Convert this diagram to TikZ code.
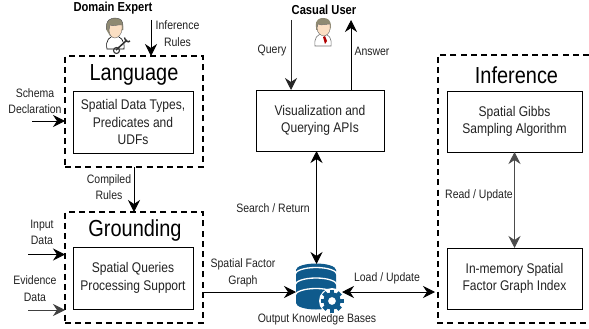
\documentclass[tikz,border=0pt]{standalone}
\usepackage{fontspec}
\setmainfont[FakeStretch=0.86]{Liberation Sans}
\usetikzlibrary{arrows.meta}
\definecolor{txt}{HTML}{222222}
\definecolor{dbblue}{HTML}{0F5A8C}
\definecolor{hair}{HTML}{8F8A72}
\definecolor{skin}{HTML}{FBDFC3}
\tikzset{
  x=1pt,y=-1pt,
  tip/.style={-{Stealth[length=12pt,width=12pt,inset=4pt]}},
  arr/.style={tip,line width=0.9pt,black},
  biarr/.style={{Stealth[length=12pt,width=12pt,inset=4pt]}-{Stealth[length=12pt,width=12pt,inset=4pt]},line width=0.9pt,black},
  dashbox/.style={draw,line width=1.2pt,dash pattern=on 6pt off 4.2pt},
  solidbox/.style={draw,line width=0.9pt,outer sep=0pt,inner sep=0pt,align=center,text=txt,font=\fontsize{14}{17.6}\selectfont},
  frame/.style={dashbox,outer sep=0pt,inner sep=0pt},
  lab/.style={inner sep=0pt,align=center,text=txt,font=\fontsize{12.2}{16.4}\selectfont},
  title/.style={inner sep=0pt,text=black,font=\fontsize{23.2}{26}\selectfont},
  boldlab/.style={inner sep=0pt,text=black,font=\bfseries\fontsize{13}{14}\selectfont},
}
\begin{document}
\begin{tikzpicture}
\useasboundingbox (0,0) rectangle (589,329);
% frames
\node[frame,minimum width=138pt,minimum height=111pt] (langf) at (134,111.5) {};
\node[frame,minimum width=138pt,minimum height=111pt] (grndf) at (134,267.5) {};
\draw[dashbox] (589,55) -- (438,55) -- (438,323) -- (589,323);
% titles
\node[title] (langt) at (134,74.5) {Language};
\node[title] (grndt) at (135,230) {Grounding};
\node[title] (inft) at (516.5,75.5) {Inference};
% boxes
\node[solidbox,minimum width=120pt,minimum height=62pt] (types) at (133,122) {Spatial Data Types,\\Predicates and\\UDFs};
\node[solidbox,minimum width=120pt,minimum height=62pt] (spq) at (133,278) {Spatial Queries\\Processing Support};
\node[solidbox,minimum width=128pt,minimum height=61pt] (vis) at (320,120.5) {Visualization and\\Querying APIs};
\node[solidbox,minimum width=135pt,minimum height=61pt] (gibbs) at (514.5,121.5) {Spatial Gibbs\\Sampling Algorithm};
\node[solidbox,minimum width=135pt,minimum height=61pt] (index) at (514.5,278.5) {In-memory Spatial\\Factor Graph Index};
% labels
\node[boldlab] (de) at (113,8) {Domain Expert};
\node[boldlab] (cu) at (324,10) {Casual User};
\node[lab] (ir) at (177.5,33.5) {Inference\\Rules};
\node[lab] (sd) at (35,101) {Schema\\Declaration};
\node[lab] (cr) at (109,187) {Compiled\\Rules};
\node[lab] (id) at (42,232.5) {Input\\Data};
\node[lab] (ed) at (35,288.5) {Evidence\\Data};
\node[lab] (sf) at (243,273) {Spatial Factor\\Graph};
\node[lab] (lu) at (387,278) {Load / Update};
\node[lab] (okb) at (317,319) {Output Knowledge Bases};
\node[lab] (sr) at (273,208) {Search / Return};
\node[lab] (q) at (272,50.5) {Query};
\node[lab] (an) at (372,51.5) {Answer};
\node[lab] (ru) at (479,195.5) {Read / Update};
% database icon
\node[minimum width=40pt,minimum height=45pt,inner sep=0pt] (db) at (316,286.5) {};
\fill[dbblue] (296,270) arc[x radius=20,y radius=6.5,start angle=180,end angle=360] -- (336,303) arc[x radius=20,y radius=6.5,start angle=0,end angle=180] -- cycle;
\fill[dbblue] (316,270.5) ellipse[x radius=20,y radius=6.5];
\foreach \yy in {277.5,288,298.5}{
  \draw[white,line width=1.3pt] (295,\yy-3) arc[x radius=21,y radius=7,start angle=180,end angle=360];
}
\fill[white] (332,301) circle[radius=13];
\begin{scope}[shift={(332,301)}]
  \foreach \a in {0,45,...,315}{
    \fill[dbblue,rotate=\a] (-2.3,-11.5) rectangle (2.3,-6);
  }
  \fill[dbblue,even odd rule] circle[radius=8.7] circle[radius=4];
\end{scope}
% connectors
\coordinate (irs) at (151,20);
\draw[arr] (irs) -- (irs |- langf.north);
\coordinate (sds) at (32,121);
\draw[arr] (sds) -- (sds -| langf.west);
\draw[arr] (langf.south) -- (grndf.north);
\coordinate (ids) at (28,254.5);
\draw[arr] (ids) -- (ids -| grndf.west);
\coordinate (eds) at (28,310);
\draw[arr,draw=black!75] (eds) -- (eds -| grndf.west);
\coordinate (qs) at (291,20);
\draw[arr,draw=black!85] (qs) -- (qs |- vis.north);
\coordinate (ans) at (351,20);
\draw[arr] (ans |- vis.north) -- (ans);
\coordinate (dbtop) at (316.5,264);
\draw[biarr] (dbtop |- vis.south) -- (dbtop);
\coordinate (sfe) at (296,292);
\draw[arr] (sfe -| grndf.east) -- (sfe);
\coordinate (lul) at (342,292);
\coordinate (lur) at (435,292);
\draw[biarr] (lul) -- (lur);
\draw[biarr,draw=black!70] (gibbs.south) -- (index.north);
% domain expert icon
\begin{scope}
  \draw[black,fill=white,line width=0.6pt] (107,49) .. controls (105,40) and (110,36) .. (115,36) .. controls (120,36) and (125,40) .. (124,49) -- cycle;
  \fill[hair] (106.5,30) .. controls (105,19) and (112,18) .. (115,18) .. controls (121,18) and (123,21) .. (123,26) -- (123,30) -- (110,36) -- cycle;
  \draw[black!70,line width=0.4pt] (106.5,30) .. controls (105,19) and (112,18) .. (115,18) .. controls (121,18) and (123,21) .. (123,26) -- (123,30);
  \fill[skin,draw=black!60,line width=0.4pt] (110,25) .. controls (113,27) and (119,24) .. (122,25) -- (122,29) .. controls (122,34) and (118,38) .. (115,38) .. controls (112,38) and (109,35) .. (109,30) -- cycle;
  \draw[black!80,line width=1.5pt] (116,50) -- (127,40);
  \draw[black!80,line width=1.1pt] (116.5,50.5) circle[radius=3];
  \draw[black!80,line width=1.4pt] (124.5,37.5) .. controls (125,41) and (128,43) .. (130,41);
\end{scope}
% casual user icon
\begin{scope}
  \draw[black!55,fill=white,line width=0.6pt] (315,46) .. controls (314,38) and (317,34) .. (323,34) .. controls (329,34) and (332,38) .. (331,46) -- cycle;
  \fill[red!70!black] (323,37) -- (325,44) -- (327,41) -- (325,36) -- cycle;
  \fill[hair] (316,27) .. controls (315,19) and (320,18) .. (323,18) .. controls (328,18) and (331,20) .. (331,27) -- (330,30) -- (316,30) -- cycle;
  \fill[skin,draw=black!60,line width=0.4pt] (318,24) .. controls (322,26) and (326,24) .. (330,24) -- (330,29) .. controls (330,33) and (326,36) .. (324,36) .. controls (321,36) and (317,33) .. (317,28) -- cycle;
\end{scope}
\end{tikzpicture}
\end{document}
